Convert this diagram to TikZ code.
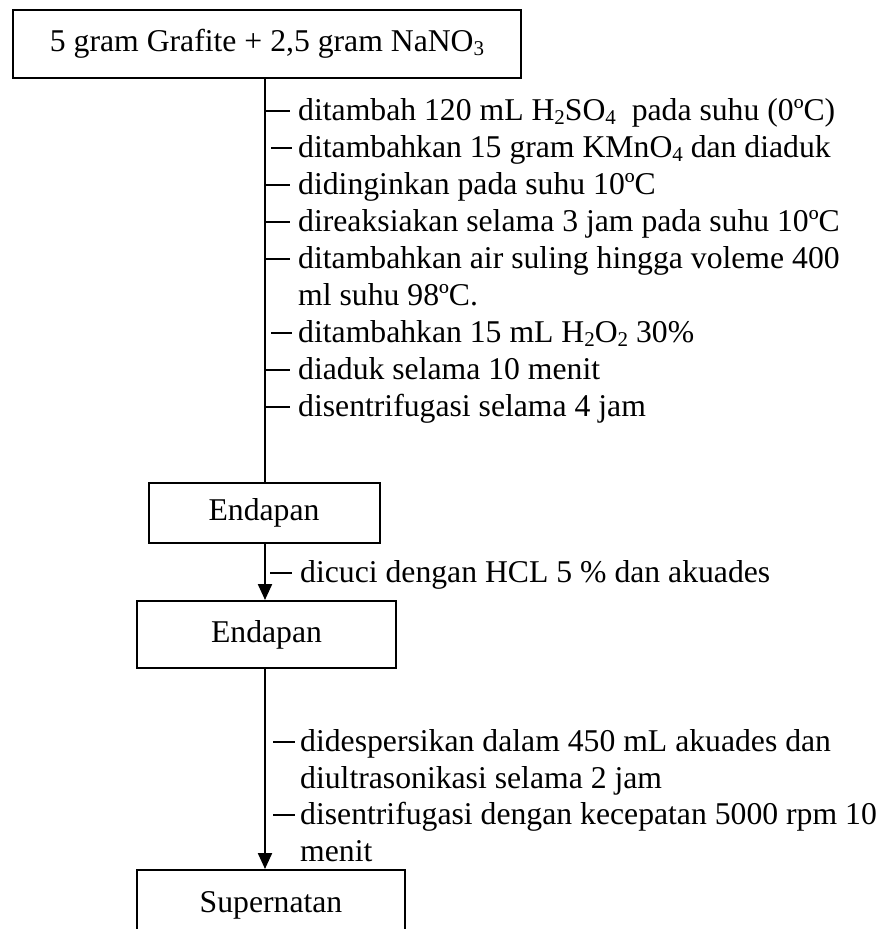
\documentclass[tikz,border=0pt]{standalone}
\usepackage{fontspec}
\setmainfont{Liberation Serif}
\usetikzlibrary{arrows.meta}
\newcommand{\subsc}[1]{\raisebox{-4pt}{\fontsize{21}{21}\selectfont #1}}
\begin{document}
\begin{tikzpicture}[x=1pt,y=-1pt,
  box/.style={draw,line width=2pt,inner sep=0pt,minimum width=#1},
  lbl/.style={anchor=west,inner sep=0pt,text height=24pt,text depth=6pt},
  flow/.style={line width=2.2pt},
  tickline/.style={line width=1.8pt,shorten >=8pt},
  arr/.style={flow,-{Triangle[length=16pt,width=14pt]}},
  font=\fontsize{31.7}{36.6}\selectfont]
\useasboundingbox (0,0) rectangle (891,929);
\clip (0,0) rectangle (891,929);
\coordinate (ax) at (265,0);
% boxes
\node[box=508pt,minimum height=68pt] (top) at (267,44) {5 gram Grafite + 2,5 gram NaNO\subsc{3}};
\node[box=231pt,minimum height=60pt] (e1) at (264,513) {Endapan};
\node[box=259pt,minimum height=67pt] (e2) at (266.5,634.5) {Endapan};
\node[box=268pt,minimum height=70pt] (sp) at (271,905) {Supernatan};
% main flow
\draw[flow] (top.south -| ax) -- (e1.north -| ax);
\draw[arr] (e1.south -| ax) -- (e2.north -| ax);
\draw[arr] (e2.south -| ax) -- (sp.north -| ax);
% first group of steps
\node[lbl] (s1) at (298,111) {ditambah 120 mL H\subsc{2}SO\subsc{4}\ \ pada suhu (0ºC)};
\node[lbl] (s2) at (298,148) {ditambahkan 15 gram KMnO\subsc{4} dan diaduk};
\node[lbl] (s3) at (298,185) {didinginkan pada suhu 10ºC};
\node[lbl] (s4) at (298,222) {direaksiakan selama 3 jam pada suhu 10ºC};
\node[lbl] (s5) at (298,259) {ditambahkan air suling hingga voleme 400};
\node[lbl] (s5b) at (298,296) {ml suhu 98ºC.};
\node[lbl] (s6) at (298,333) {ditambahkan 15 mL H\subsc{2}O\subsc{2} 30\%};
\node[lbl] (s7) at (298,370) {diaduk selama 10 menit};
\node[lbl] (s8) at (298,407) {disentrifugasi selama 4 jam};
\foreach \s in {s1,s3,s4,s5,s8,s7}
  \draw[tickline] (ax |- \s.west) -- (\s.west);
\foreach \s in {s2,s6}
  \draw[tickline,shorten <=6pt,shorten >=6pt] (ax |- \s.west) -- (\s.west);
% wash step
\node[lbl] (w1) at (300,573) {dicuci dengan HCL 5 \% dan akuades};
\draw[tickline,shorten <=5pt] (ax |- w1.west) -- (w1.west);
% last group
\node[lbl] (d1) at (300,742) {didespersikan dalam 450 mL akuades dan};
\node[lbl] (d1b) at (300,779) {diultrasonikasi selama 2 jam};
\node[lbl] (d2) at (300,815) {disentrifugasi dengan kecepatan 5000 rpm 10};
\node[lbl] (d2b) at (300,852) {menit};
\foreach \s in {d1,d2}
  \draw[tickline,shorten <=8pt,shorten >=5pt] (ax |- \s.west) -- (\s.west);
\end{tikzpicture}
\end{document}
